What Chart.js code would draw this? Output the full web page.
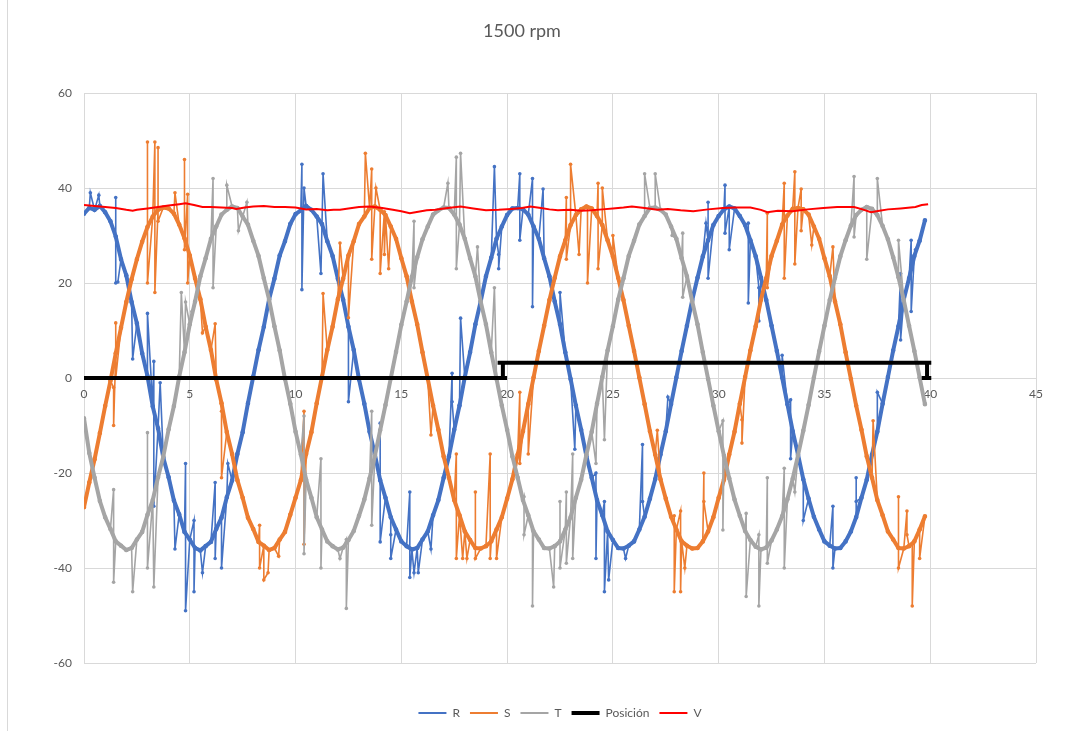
<!DOCTYPE html>
<html>
<head>
<meta charset="utf-8">
<title>1500 rpm</title>
<script src="https://cdn.jsdelivr.net/npm/chart.js@4.4.0/dist/chart.umd.min.js"></script>
<style>
  html, body { margin: 0; padding: 0; background: #fff; overflow: hidden; }
  #wrap { position: relative; width: 1075px; height: 731px; }
  #edge { position: absolute; left: 7px; top: 0; width: 1px; height: 731px; background: #d9d9d9; }
</style>
</head>
<body>
<div id="wrap">
  <canvas id="chart" width="1075" height="731"></canvas>
  <div id="edge"></div>
</div>
<script>
// sample positions shared by R, S, T
const sampleX = [
  0, 0.25, 0.5, 0.75, 1, 1.25, 1.5, 1.75, 2, 2.25, 2.5, 2.75, 3, 3.25, 3.5, 3.75, 4, 4.25, 4.5, 4.75,
  5, 5.25, 5.5, 5.75, 6, 6.25, 6.5, 6.75, 7, 7.25, 7.5, 7.75, 8, 8.25, 8.5, 8.75, 9, 9.25, 9.5, 9.75,
  10, 10.25, 10.5, 10.75, 11, 11.25, 11.5, 11.75, 12, 12.25, 12.5, 12.75, 13, 13.25, 13.5, 13.75, 14, 14.25, 14.5, 14.75,
  15, 15.25, 15.5, 15.75, 16, 16.25, 16.5, 16.75, 17, 17.25, 17.5, 17.75, 18, 18.25, 18.5, 18.75, 19, 19.25, 19.5, 19.75,
  20, 20.25, 20.5, 20.75, 21, 21.25, 21.5, 21.75, 22, 22.25, 22.5, 22.75, 23, 23.25, 23.5, 23.75, 24, 24.25, 24.5, 24.75,
  25, 25.25, 25.5, 25.75, 26, 26.25, 26.5, 26.75, 27, 27.25, 27.5, 27.75, 28, 28.25, 28.5, 28.75, 29, 29.25, 29.5, 29.75,
  30, 30.25, 30.5, 30.75, 31, 31.25, 31.5, 31.75, 32, 32.25, 32.5, 32.75, 33, 33.25, 33.5, 33.75, 34, 34.25, 34.5, 34.75,
  35, 35.25, 35.5, 35.75, 36, 36.25, 36.5, 36.75, 37, 37.25, 37.5, 37.75, 38, 38.25, 38.5, 38.75, 39, 39.25, 39.5, 39.75
];

const rValues = [
  34.6, 35.8, 35.4, 36.2, 34.9, 33.0, 29.8, 25.0, 21.6, 16.0, 11.5, 5.2, 0.4, -6.0, -10.6, -16.8, -20.9, -25.8, -28.7, -32.4,
  -34.0, -35.8, -36.3, -35.4, -34.5, -31.8, -29.4, -25.1, -21.6, -16.0, -11.4, -5.3, 0.3, 5.9, 10.8, 16.6, 20.9, 25.8, 28.8, 32.4,
  34.5, 35.3, 36.2, 35.4, 34.0, 32.4, 28.8, 25.7, 20.9, 16.5, 10.8, 5.9, -0.3, -5.4, -11.3, -16.1, -21.5, -25.2, -29.3, -31.9,
  -34.4, -35.4, -36.1, -35.8, -34.0, -32.3, -28.9, -25.7, -21.0, -16.5, -10.9, -5.8, 0.2, 5.4, 11.3, 16.1, 21.4, 25.3, 29.3, 31.9,
  34.3, 35.7, 35.8, 35.5, 34.4, 31.9, 29.3, 25.2, 21.4, 16.1, 11.3, 5.4, -0.2, -5.8, -10.9, -16.5, -21.0, -25.7, -28.9, -32.3,
  -34.1, -35.8, -35.9, -35.3, -34.4, -31.9, -29.2, -25.4, -21.3, -16.1, -11.2, -5.5, 0.1, 5.7, 11.0, 16.4, 21.1, 25.6, 29.0, 32.2,
  34.1, 35.5, 36.1, 35.7, 34.1, 32.2, 29.0, 25.6, 21.1, 16.4, 11.0, 5.7, 0.1, -5.5, -11.2, -16.1, -21.3, -25.4, -29.2, -31.9,
  -34.4, -35.3, -35.9, -35.8, -34.4, -32.3, -29.3, -25.2, -21.4, -16.1, -11.3, -5.4, 0.2, 5.8, 10.9, 16.5, 21.0, 25.7, 28.9, 33.2
];

const sValues = [
  -27.2, -22.0, -17.1, -11.6, -5.9, -0.6, 5.2, 10.6, 16.0, 20.8, 25.0, 28.7, 31.8, 34.0, 35.4, 35.9, 35.7, 34.6, 32.3, 29.4,
  25.8, 21.0, 16.6, 10.8, 5.9, -0.3, -5.3, -11.4, -16.0, -21.5, -25.2, -29.4, -31.8, -34.5, -35.3, -36.2, -35.8, -34.0, -32.4, -28.8,
  -25.2, -21.5, -16.0, -11.4, -5.3, 0.3, 5.9, 10.8, 16.6, 20.9, 25.8, 28.8, 32.4, 34.0, 35.8, 36.1, 35.4, 34.3, 31.9, 29.3,
  25.2, 21.4, 16.1, 11.3, 5.4, -0.2, -5.8, -10.9, -16.5, -21.0, -25.7, -28.9, -32.3, -34.1, -35.8, -35.9, -35.4, -34.4, -31.9, -29.3,
  -25.4, -21.3, -16.1, -11.2, -5.5, 0.1, 5.7, 11.0, 16.4, 21.1, 25.6, 29.0, 32.2, 34.3, 35.5, 36.1, 35.7, 34.1, 32.2, 29.0,
  25.6, 21.1, 16.4, 11.0, 5.7, 0.1, -5.5, -11.2, -16.1, -21.3, -25.4, -29.2, -31.9, -34.4, -35.3, -35.9, -35.8, -34.4, -32.3, -29.3,
  -25.2, -21.4, -16.1, -11.3, -5.4, 0.2, 5.8, 10.9, 16.5, 21.0, 25.7, 28.9, 32.3, 34.2, 35.6, 35.8, 35.5, 34.4, 31.9, 29.3,
  25.2, 21.4, 16.1, 11.3, 5.4, -0.2, -5.8, -10.9, -16.5, -21.0, -25.7, -28.9, -32.3, -34.0, -35.8, -35.9, -35.4, -34.4, -31.9, -29.1
];

const tValues = [
  -8.5, -15.8, -21.0, -25.9, -29.3, -31.8, -34.4, -35.3, -36.2, -35.8, -34.0, -32.4, -28.8, -25.7, -20.9, -16.5, -10.8, -5.9, 0.3, 5.4,
  11.3, 16.1, 21.4, 25.2, 29.3, 31.9, 34.4, 35.4, 36.1, 35.8, 34.0, 32.3, 28.9, 25.7, 21.0, 16.5, 10.9, 5.8, -0.2, -5.4,
  -11.3, -16.1, -21.4, -25.2, -29.3, -31.9, -34.4, -35.4, -36.1, -35.7, -34.1, -32.2, -29.0, -25.6, -21.1, -16.4, -11.0, -5.7, -0.1, 5.5,
  11.2, 16.1, 21.3, 25.4, 29.2, 31.9, 34.4, 35.3, 35.9, 35.8, 34.4, 32.3, 29.3, 25.2, 21.4, 16.1, 11.3, 5.4, -0.2, -5.8,
  -10.9, -16.5, -21.0, -25.7, -28.9, -32.3, -34.0, -35.8, -35.9, -35.4, -34.4, -31.9, -29.3, -25.2, -21.4, -16.1, -11.3, -5.4, 0.2, 5.8,
  10.9, 16.5, 21.0, 25.7, 28.9, 32.3, 34.1, 35.8, 35.9, 35.4, 34.4, 31.9, 29.3, 25.2, 21.4, 16.1, 11.3, 5.4, -0.2, -5.8,
  -11.2, -16.4, -21.1, -25.6, -29.0, -32.2, -34.1, -35.5, -36.1, -35.7, -34.2, -31.9, -29.1, -25.5, -21.2, -16.3, -11.1, -5.7, 0.1, 5.6,
  11.0, 16.4, 21.1, 25.6, 29.0, 32.1, 34.3, 35.4, 36.0, 35.6, 34.3, 32.0, 29.2, 25.4, 21.2, 16.4, 11.0, 5.7, 0.1, -5.5
];

// noise spikes (x, y)
const rSpikeX = [0.3, 0.7, 1.5, 1.5, 1.6, 2.3, 3.0, 3.3, 3.3, 3.6, 4.3, 4.8, 4.8, 5.2, 5.2, 5.6, 6.2, 6.2, 6.5, 6.8,
  10.3, 10.3, 10.4, 11.2, 11.3, 12.5, 14.0, 14.0, 14.5, 14.5, 15.4, 15.4, 15.6, 15.8, 16.4, 17.4, 17.4, 17.8, 19.4, 19.6, 19.6,
  20.6, 20.6, 21.2, 21.2, 21.7, 22.5, 23.2, 24.2, 24.2, 24.6, 24.6, 24.8, 25.6, 26.4, 26.4, 27.6, 29.4, 29.5, 29.5,
  30.3, 30.3, 30.5, 30.5, 31.4, 31.4, 31.9, 31.9, 33.0, 33.4, 33.4, 34.0, 35.4, 35.4, 36.5, 36.5, 37.5, 38.6, 38.6, 39.1, 39.1, 39.3];
const rSpikeY = [39, 38.5, 38, 20, 20.2, 4, 13.6, 3.5, -27, -1, -36, -18, -49, -30, -45, -41, -22, -38, -40, -18,
  45, 18.6, 40, 22, 43, -5, -9.5, -34.5, -33, -38, -24, -42, -41, -41, -36, 1, -5, 12.6, 44.5, 26, 23,
  43, 29, 42, 15, 39.8, 18, -15, -20, -38, -26, -45, -42.5, -38, -14, -26, -4, 32.6, 37, 21,
  40.6, 30.5, 36, 27, 32.6, 15.8, 19, 12, 4.8, -4.6, -17, -30, -27, -40, -21, -26, -3, 22, 8, 29, 14, 27];

const sSpikeX = [1.4, 1.4, 1.5, 1.5, 3.0, 3.0, 3.35, 3.35, 3.5, 3.5, 4.3, 4.75, 4.75, 4.9, 4.9, 5.6, 6.2, 6.5, 6.5,
  8.3, 8.3, 8.5, 8.7, 9.2, 10.4, 10.4, 11.3, 12.1, 12.5, 13.3, 13.6, 13.6, 13.8, 14.0, 14.2, 14.2, 14.4,
  16.4, 17.6, 17.6, 17.9, 18.1, 18.5, 18.5, 19.2, 19.2, 19.5, 20.6, 20.6, 21.0,
  22.8, 22.8, 23.0, 23.4, 23.8, 23.8, 24.3, 24.3, 24.5, 25.0, 27.1, 27.9, 27.9, 28.2, 28.2, 28.4, 29.3, 29.3,
  31.1, 31.1, 32.3, 32.3, 33.1, 33.1, 33.6, 33.6, 33.9, 33.9, 34.4, 35.4, 37.3, 38.5, 38.5, 38.9, 38.9, 39.15, 39.15, 39.5, 39.5];
const sSpikeY = [-2, -10, 11.6, 0, 49.7, 20, 49.7, 18, 48.5, 33, 39, 46, 27, 38.7, 20, 9.5, 11.4, -7, -21,
  -31, -40, -42.5, -41, -37.5, -7, -35, 17.8, 28.4, 12.7, 47.3, 44, 25, 40, 22, 35, 26, 23,
  -12, -16, -38, -38, -38, -24, -38, -16, -38, -38, -3, -18, -16,
  38, 25, 45, 26, 36, 20, 41, 23, 40, 30, -11, -29, -45, -28, -45, -40, -20, -26,
  -8.8, -13.7, 34.7, 19, 41, 21, 43.4, 24, 39.8, 31, 28, 27.6, -9, -25, -40, -28, -33, -35, -48, -32, -38];

const tSpikeX = [1.4, 1.4, 2.3, 3.0, 3.0, 3.3, 4.6, 4.8, 5.1, 6.1, 6.1, 6.75, 7.3, 7.7,
  10.4, 10.4, 11.2, 11.2, 12.1, 12.4, 12.4, 13.6, 13.6, 15.6, 15.6, 17.2, 17.6, 17.6, 17.8, 18.6, 19.4,
  20.8, 20.8, 21.2, 21.2, 22.2, 22.5, 22.5, 22.8, 22.8, 23.1, 23.1, 24.2, 24.6, 26.5, 27.0, 27.8, 28.3, 28.3,
  30.2, 30.2, 31.3, 31.3, 31.9, 31.9, 32.3, 32.3, 33.1, 33.1, 33.6, 36.4, 36.4, 37.0, 37.5, 38.5];
const tSpikeY = [-23.5, -43, -45, -11.5, -40, -44, 18, 16, 14, 42, 19, 40.6, 31, 37,
  -8, -37, -17, -40, -38, -34, -48.5, -7, -31, 33, 19, 41, 46.5, 23, 47.3, 27.6, 19,
  -25, -33, -32, -48, -44, -26, -40, -24, -39, -16, -38, -18, -13, 43, 43, 30, 30.5, 17,
  -9, -32, -28.5, -46, -33, -48, -21, -39, -19, -40, -24, 42.4, 29.7, 25, 42, 29];

const posX = [0, 20, 19.8, 19.8, 19.55, 40.05, 39.85, 39.85, 39.6, 40.05];
const posY = [0, 0, 0, 3.2, 3.2, 3.2, 3.2, 0, 0, 0];

const vX = [0, 0.5, 1, 1.5, 2, 2.3, 2.5, 3, 3.5, 4, 4.5, 4.8, 5.2, 5.6, 6, 6.5, 7, 7.2, 7.6, 8, 8.5, 9, 9.5, 10,
  10.5, 11, 11.5, 11.8, 12.1, 12.5, 13, 13.5, 14.1, 14.6, 15, 15.4, 15.8, 16.2, 16.6, 17.2, 17.8, 18.4, 19, 19.6,
  20.2, 20.7, 21.1, 21.6, 22, 22.4, 23, 23.5, 24, 24.5, 25, 25.5, 25.9, 26.5, 27.1, 27.6, 28.2, 28.8, 29.5,
  30.2, 30.8, 31.5, 32, 32.3, 32.8, 33.5, 34.2, 34.95, 35.6, 36.4, 36.8, 37.2, 37.6, 38, 38.6, 39.3, 39.6, 39.9];
const vY = [36.4, 36.2, 36.0, 35.8, 35.4, 35.2, 35.4, 35.7, 36.0, 36.3, 36.6, 36.8, 36.4, 36.0, 36.0, 35.9, 35.8, 35.6, 35.9, 36.1, 36.2, 36.0, 36.0, 35.9,
  35.5, 35.6, 35.3, 35.4, 35.4, 35.7, 36.0, 36.1, 35.8, 35.4, 35.1, 34.7, 35.0, 35.3, 35.4, 35.8, 36.1, 35.7, 35.3, 35.4,
  35.6, 35.8, 36.1, 35.8, 35.5, 35.3, 35.4, 35.2, 35.3, 35.5, 35.7, 35.9, 36.1, 35.8, 35.4, 35.6, 35.3, 35.1, 35.5,
  35.8, 35.9, 35.9, 35.4, 34.9, 35.2, 35.1, 35.5, 35.8, 36.0, 36.0, 35.5, 34.9, 35.2, 35.5, 35.7, 36.0, 36.4, 36.6];

// base samples with spike points slotted in by x
function withSpikes(xs, ys, spikeX, spikeY) {
  const pts = xs.map((x, i) => ({ x, y: ys[i], k: 0, n: i }));
  spikeX.forEach((x, i) => pts.push({ x, y: spikeY[i], k: 1, n: i }));
  pts.sort((a, b) => a.x - b.x || a.k - b.k || a.n - b.n);
  return pts.map(p => ({ x: p.x, y: p.y }));
}

const pairs = (xs, ys) => xs.map((x, i) => ({ x, y: ys[i] }));

// thick phase curve (shown in legend)
function phase(label, xs, ys, color, order) {
  return {
    label, data: pairs(xs, ys),
    borderColor: color, backgroundColor: color,
    borderWidth: 4, pointRadius: 1.3, pointBorderWidth: 2, pointBorderColor: color,
    order
  };
}

// thin trace of the same phase including the noise spikes
function noise(label, xs, ys, sx, sy, color, order) {
  return {
    label, data: withSpikes(xs, ys, sx, sy), noise: true,
    borderColor: color, backgroundColor: color,
    borderWidth: 1.6, pointRadius: 1.8, pointBorderWidth: 0,
    order
  };
}

Chart.defaults.font.family = 'Lato, "Open Sans", sans-serif';
Chart.defaults.color = '#595959';

new Chart(document.getElementById('chart'), {
  type: 'line',
  data: {
    datasets: [
      phase('R', sampleX, rValues, '#4472C4', 9),
      phase('S', sampleX, sValues, '#ED7D31', 7),
      phase('T', sampleX, tValues, '#A5A5A5', 5),
      {
        label: 'Posición',
        data: pairs(posX, posY),
        borderColor: '#000000', backgroundColor: '#000000',
        borderWidth: 4, pointRadius: 0,
        order: 2
      },
      {
        label: 'V',
        data: pairs(vX, vY),
        borderColor: '#FF0000', backgroundColor: '#FF0000',
        borderWidth: 2, pointRadius: 0,
        order: 1
      },
      noise('R', sampleX, rValues, rSpikeX, rSpikeY, '#4472C4', 10),
      noise('S', sampleX, sValues, sSpikeX, sSpikeY, '#ED7D31', 8),
      noise('T', sampleX, tValues, tSpikeX, tSpikeY, '#A5A5A5', 6)
    ]
  },
  options: {
    responsive: false,
    animation: false,
    devicePixelRatio: 1,
    layout: { padding: { left: 8, right: 39, top: 0, bottom: 2 } },
    elements: { line: { tension: 0 } },
    plugins: {
      title: {
        display: true,
        text: '1500 rpm',
        color: '#595959',
        font: { size: 18, weight: 'normal' },
        padding: { top: 20, bottom: 51.4 }
      },
      // empty block that keeps the gap between plot and legend
      subtitle: {
        display: true,
        text: ' ',
        position: 'bottom',
        weight: 500,
        font: { size: 10 },
        padding: { top: 22, bottom: 0 }
      },
      legend: {
        position: 'bottom',
        fullSize: false,
        labels: {
          usePointStyle: true,
          pointStyle: 'line',
          pointStyleWidth: 28,
          padding: 10,
          color: '#595959',
          font: { size: 12 },
          filter: (item, data) => !data.datasets[item.datasetIndex].noise,
          sort: (a, b) => a.datasetIndex - b.datasetIndex
        }
      },
      tooltip: { enabled: false }
    },
    scales: {
      x: {
        type: 'linear',
        min: 0, max: 45,
        position: { y: 0 },
        ticks: { stepSize: 5, padding: 9, maxRotation: 0, color: '#595959', font: { size: 12 } },
        grid: { color: '#d9d9d9', drawTicks: false },
        border: { color: '#d9d9d9' }
      },
      y: {
        min: -60, max: 60,
        ticks: { stepSize: 20, padding: 12, color: '#595959', font: { size: 12 } },
        grid: { color: '#d9d9d9', drawTicks: false },
        border: { display: false },
        afterFit: s => { s.width = 76; }
      }
    }
  }
});
</script>
</body>
</html>
